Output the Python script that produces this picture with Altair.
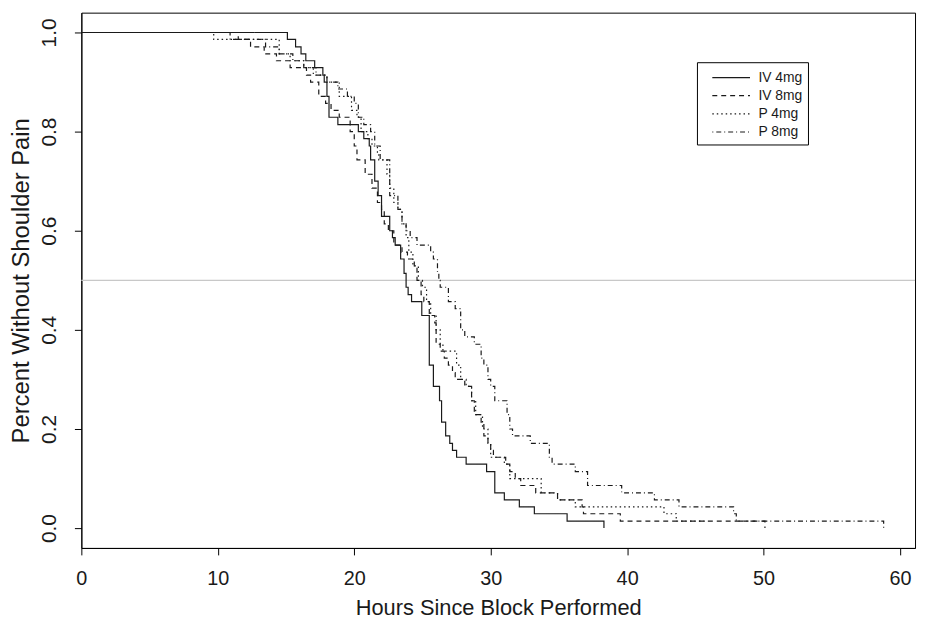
import altair as alt
import pandas as pd

groups = ["IV 4mg", "IV 8mg", "P 4mg", "P 8mg"]

iv4_t = [0, 15.1, 15.7, 16.1, 16.45, 17.1, 17.7, 17.8, 18.0, 18.15,
         18.8, 20.3, 20.7, 21.1, 21.2, 21.5, 21.75, 22.0, 22.6, 22.8,
         23.0, 23.4, 23.65, 23.8, 23.95, 24.2, 24.95, 25.5, 25.8, 26.25,
         26.4, 26.7, 27.0, 27.2, 27.5, 28.2, 29.7, 30.3, 31.0, 32.1,
         33.2, 35.6, 38.3]
iv4_s = [1.0, 0.986, 0.971, 0.957, 0.943, 0.929, 0.914, 0.90, 0.871, 0.829,
         0.814, 0.80, 0.786, 0.771, 0.743, 0.70, 0.671, 0.629, 0.60, 0.586,
         0.571, 0.543, 0.514, 0.486, 0.471, 0.457, 0.429, 0.329, 0.286, 0.257,
         0.214, 0.186, 0.171, 0.157, 0.143, 0.129, 0.114, 0.071, 0.057, 0.043,
         0.029, 0.014, 0.0]

iv8_t = [0, 11.5, 12.4, 13.4, 14.3, 15.3, 16.5, 16.8, 17.4, 17.9,
         18.3, 18.9, 19.7, 20.0, 20.2, 20.8, 21.3, 21.7, 22.0, 22.2,
         22.5, 22.9, 23.5, 23.9, 24.4, 24.6, 24.9, 25.1, 25.5, 25.9,
         26.0, 26.3, 26.6, 26.9, 27.2, 27.4, 28.1, 28.6, 28.8, 29.3,
         29.5, 29.8, 30.0, 30.2, 31.1, 31.4, 31.8, 32.2, 33.3, 34.9,
         36.7, 36.8, 39.5, 50.1]
iv8_s = [1.0, 0.986, 0.971, 0.957, 0.943, 0.929, 0.914, 0.90, 0.871, 0.857,
         0.843, 0.829, 0.80, 0.771, 0.743, 0.714, 0.686, 0.657, 0.643, 0.614,
         0.60, 0.571, 0.557, 0.543, 0.529, 0.50, 0.471, 0.457, 0.429, 0.414,
         0.371, 0.357, 0.343, 0.329, 0.314, 0.30, 0.286, 0.257, 0.229, 0.214,
         0.186, 0.171, 0.157, 0.143, 0.129, 0.114, 0.10, 0.086, 0.071, 0.057,
         0.043, 0.029, 0.014, 0.0]

p4_t = [0, 9.7, 14.5, 15.3, 16.3, 17.0, 18.0, 18.9, 19.8, 20.2,
        20.5, 21.0, 21.3, 21.7, 21.8, 22.4, 22.6, 22.9, 23.2, 23.5,
        23.8, 24.0, 24.3, 24.7, 25.0, 25.3, 25.6, 26.0, 26.3, 26.5,
        27.5, 27.8, 28.2, 28.6, 28.9, 29.4, 29.8, 30.0, 31.0, 31.4,
        33.7, 34.9, 36.2, 42.7, 43.6, 45.7]
p4_s = [1.0, 0.986, 0.957, 0.943, 0.929, 0.914, 0.90, 0.871, 0.843, 0.829,
        0.80, 0.786, 0.771, 0.757, 0.743, 0.714, 0.686, 0.657, 0.643, 0.614,
        0.586, 0.557, 0.529, 0.50, 0.486, 0.457, 0.429, 0.40, 0.371, 0.357,
        0.329, 0.30, 0.286, 0.257, 0.229, 0.20, 0.171, 0.143, 0.129, 0.10,
        0.071, 0.057, 0.043, 0.029, 0.014, 0.014]

p8_t = [0, 10.9, 13.5, 14.5, 15.5, 16.3, 17.2, 18.0, 18.8, 19.5,
        20.0, 20.3, 20.7, 21.2, 21.5, 21.9, 22.6, 23.2, 23.5, 23.8,
        24.1, 24.6, 25.6, 25.8, 26.1, 26.2, 26.3, 26.9, 27.4, 27.8,
        28.1, 28.8, 29.3, 29.5, 29.8, 30.0, 30.3, 31.2, 31.4, 31.6,
        32.9, 34.3, 34.5, 36.2, 37.1, 39.6, 42.0, 43.8, 47.8, 48.0,
        58.8]
p8_s = [1.0, 0.986, 0.971, 0.957, 0.943, 0.929, 0.914, 0.90, 0.886, 0.871,
        0.857, 0.829, 0.814, 0.80, 0.771, 0.743, 0.671, 0.643, 0.614, 0.60,
        0.586, 0.571, 0.557, 0.543, 0.514, 0.50, 0.486, 0.457, 0.443, 0.40,
        0.386, 0.371, 0.343, 0.329, 0.30, 0.286, 0.257, 0.229, 0.20, 0.186,
        0.171, 0.143, 0.129, 0.114, 0.086, 0.071, 0.057, 0.043, 0.029, 0.014,
        0.0]

x_ticks = [0, 10, 20, 30, 40, 50, 60]
y_ticks = [0.0, 0.2, 0.4, 0.6, 0.8, 1.0]
ref_level = [0.5]

rows = []
for g, ts, ss in zip(groups, [iv4_t, iv8_t, p4_t, p8_t], [iv4_s, iv8_s, p4_s, p8_s]):
    for i, (t, s) in enumerate(zip(ts, ss)):
        rows.append({"group": g, "hours": t, "surv": s, "order": i})
df = pd.DataFrame(rows)

x_scale = alt.Scale(domain=[0, 61.1], nice=False, zero=False)
y_scale = alt.Scale(domain=[-0.04, 1.04], nice=False, zero=False)

font = "Liberation Sans"
ink = "#1a1a1a"

ref = alt.Chart(pd.DataFrame({"surv": ref_level})).mark_rule(
    color="#c8c8c8", strokeWidth=1.3
).encode(y=alt.Y("surv:Q", scale=y_scale))

lines = alt.Chart(df).mark_line(
    interpolate="step-after", color=ink, strokeWidth=1.2
).encode(
    x=alt.X("hours:Q", scale=x_scale,
            axis=alt.Axis(values=x_ticks, title="Hours Since Block Performed",
                          grid=False, tickSize=7, tickColor="black",
                          domainColor="black", labelFontSize=20, titleFontSize=22,
                          labelPadding=14, titlePadding=9, labelColor=ink,
                          titleColor=ink, titleFontWeight="normal", labelFlush=False)),
    y=alt.Y("surv:Q", scale=y_scale,
            axis=alt.Axis(values=y_ticks, format=".1f",
                          title="Percent Without Shoulder Pain",
                          grid=False, tickSize=7, tickColor="black",
                          domainColor="black", labelFontSize=21, titleFontSize=24,
                          labelAngle=270, labelAlign="center", labelBaseline="bottom",
                          labelPadding=15, titlePadding=5, labelColor=ink,
                          titleColor=ink, titleFontWeight="normal", labelFlush=False)),
    strokeDash=alt.StrokeDash(
        "group:N",
        scale=alt.Scale(domain=groups, range=[[1, 0], [5, 4], [1.5, 3], [1, 3, 5, 3]]),
        legend=alt.Legend(title=None, orient="none", legendX=621, legendY=50,
                          strokeColor="black", fillColor="white", padding=5,
                          symbolType="M0,0H4", symbolSize=361, symbolStrokeWidth=1.2,
                          symbolStrokeColor=ink, labelFontSize=14, labelColor=ink,
                          labelOffset=36, rowPadding=0.3, cornerRadius=0),
    ),
    order="order:Q",
)

chart = alt.layer(ref, lines).properties(
    width=841, height=540,
    autosize=alt.AutoSizeParams(type="none"),
    padding={"left": 74, "top": 2, "right": 4, "bottom": 70},
).configure(font=font).configure_view(stroke="black", strokeWidth=1)

chart.save("out.html", embed_options={"renderer": "svg", "actions": False})
